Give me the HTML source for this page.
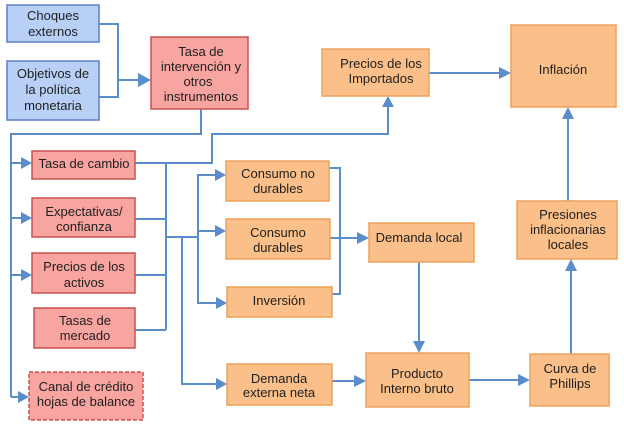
<!DOCTYPE html>
<html><head><meta charset="utf-8"><style>
html,body{margin:0;padding:0;background:#fff;}
svg{display:block;}
text{font-family:"Liberation Sans",Arial,sans-serif;font-size:13px;fill:#1e1e1e;text-anchor:middle;}
.b{fill:#b8d0f6;stroke:#5a7fc3;stroke-width:1.5;}
.r{fill:#f8a5a1;stroke:#c9504f;stroke-width:1.5;}
.o{fill:#fbc089;stroke:#eea05a;stroke-width:1.5;}
.l{fill:none;stroke:#5b8dcb;stroke-width:2;}
.a{fill:#5b8dcb;}
</style></head><body>
<svg width="624" height="429" viewBox="0 0 624 429" xmlns="http://www.w3.org/2000/svg">
<!-- connectors -->
<polyline class="l" points="99,24 118,24 118,97 99,97"/>
<line class="l" x1="118" y1="80" x2="140" y2="80"/>
<polygon class="a" points="151,80 138,73 138,87"/>

<polyline class="l" points="201,109 201,134 11,134 11,397"/>
<line class="l" x1="11" y1="163" x2="22" y2="163"/><polygon class="a" points="32,163 21,157 21,169"/>
<line class="l" x1="11" y1="218" x2="22" y2="218"/><polygon class="a" points="32,218 21,212 21,224"/>
<line class="l" x1="11" y1="275" x2="22" y2="275"/><polygon class="a" points="32,275 21,269 21,281"/>
<line class="l" x1="11" y1="397" x2="19" y2="397"/><polygon class="a" points="29,397 18,391 18,403"/>

<polyline class="l" points="135,163 212,163 212,134 388,134 388,106"/>
<polygon class="a" points="388,96 382,107 394,107"/>

<line class="l" x1="166" y1="163" x2="166" y2="330"/>
<line class="l" x1="135" y1="219" x2="166" y2="219"/>
<line class="l" x1="135" y1="275" x2="166" y2="275"/>
<line class="l" x1="135" y1="330" x2="166" y2="330"/>
<line class="l" x1="166" y1="237" x2="198" y2="237"/>

<polyline class="l" points="182,237 182,384 216,384"/>
<polygon class="a" points="227,384 216,378 216,390"/>

<polyline class="l" points="216,175 198,175 198,303 216,303"/>
<polygon class="a" points="226,175 215,169 215,181"/>
<line class="l" x1="198" y1="231" x2="216" y2="231"/>
<polygon class="a" points="226,231 215,225 215,237"/>
<polygon class="a" points="227,303 216,297 216,309"/>

<polyline class="l" points="329,168 340,168 340,294 332,294"/>
<line class="l" x1="330" y1="238" x2="358" y2="238"/>
<polygon class="a" points="369,238 357,232 357,244"/>

<line class="l" x1="419" y1="262" x2="419" y2="342"/>
<polygon class="a" points="419,353 413,341 425,341"/>

<line class="l" x1="332" y1="381" x2="355" y2="381"/>
<polygon class="a" points="366,381 354,375 354,387"/>

<line class="l" x1="469" y1="380" x2="519" y2="380"/>
<polygon class="a" points="530,380 518,374 518,386"/>

<line class="l" x1="571" y1="354" x2="571" y2="270"/>
<polygon class="a" points="571,259 565,271 577,271"/>

<line class="l" x1="568" y1="201" x2="568" y2="118"/>
<polygon class="a" points="568,107 562,119 574,119"/>

<line class="l" x1="429" y1="73" x2="500" y2="73"/>
<polygon class="a" points="511,73 499,67 499,79"/>

<!-- boxes -->
<rect class="b" x="7" y="5" width="92" height="37"/>
<text x="53" y="20">Choques</text><text x="53" y="36">externos</text>

<rect class="b" x="7" y="61" width="92" height="59"/>
<text x="53" y="78">Objetivos de</text><text x="53" y="94">la política</text><text x="53" y="110">monetaria</text>

<rect class="r" x="151" y="37" width="97" height="72"/>
<text x="201" y="56">Tasa de</text><text x="201" y="71">intervención y</text><text x="198" y="86">otros</text><text x="201" y="101">instrumentos</text>

<rect class="r" x="32" y="151" width="103" height="28"/>
<text x="84" y="168">Tasa de cambio</text>

<rect class="r" x="32" y="198" width="103" height="39"/>
<text x="84" y="216">Expectativas/</text><text x="84" y="231">confianza</text>

<rect class="r" x="32" y="253" width="103" height="40"/>
<text x="84" y="271">Precios de los</text><text x="84" y="287">activos</text>

<rect class="r" x="34" y="308" width="101" height="40"/>
<text x="85" y="325">Tasas de</text><text x="85" y="340">mercado</text>

<rect class="r" x="29" y="372" width="114" height="48" stroke-dasharray="4,2"/>
<text x="86" y="391">Canal de crédito</text><text x="86" y="406">hojas de balance</text>

<rect class="o" x="226" y="161" width="103" height="40"/>
<text x="278" y="178">Consumo no</text><text x="278" y="193">durables</text>

<rect class="o" x="226" y="219" width="104" height="40"/>
<text x="278" y="237">Consumo</text><text x="278" y="252">durables</text>

<rect class="o" x="227" y="287" width="105" height="30"/>
<text x="279" y="305">Inversión</text>

<rect class="o" x="369" y="223" width="105" height="39"/>
<text x="419" y="242">Demanda local</text>

<rect class="o" x="227" y="364" width="105" height="41"/>
<text x="279" y="383">Demanda</text><text x="279" y="397">externa neta</text>

<rect class="o" x="366" y="353" width="103" height="54"/>
<text x="417" y="378">Producto</text><text x="417" y="393">Interno bruto</text>

<rect class="o" x="530" y="354" width="79" height="52"/>
<text x="570" y="373">Curva de</text><text x="570" y="388">Phillips</text>

<rect class="o" x="517" y="201" width="100" height="58"/>
<text x="568" y="219">Presiones</text><text x="568" y="234">inflacionarias</text><text x="568" y="249">locales</text>

<rect class="o" x="322" y="49" width="107" height="47"/>
<text x="381" y="68">Precios de los</text><text x="381" y="83">Importados</text>

<rect class="o" x="511" y="25" width="105" height="82"/>
<text x="563" y="74">Inflación</text>
</svg>
</body></html>
